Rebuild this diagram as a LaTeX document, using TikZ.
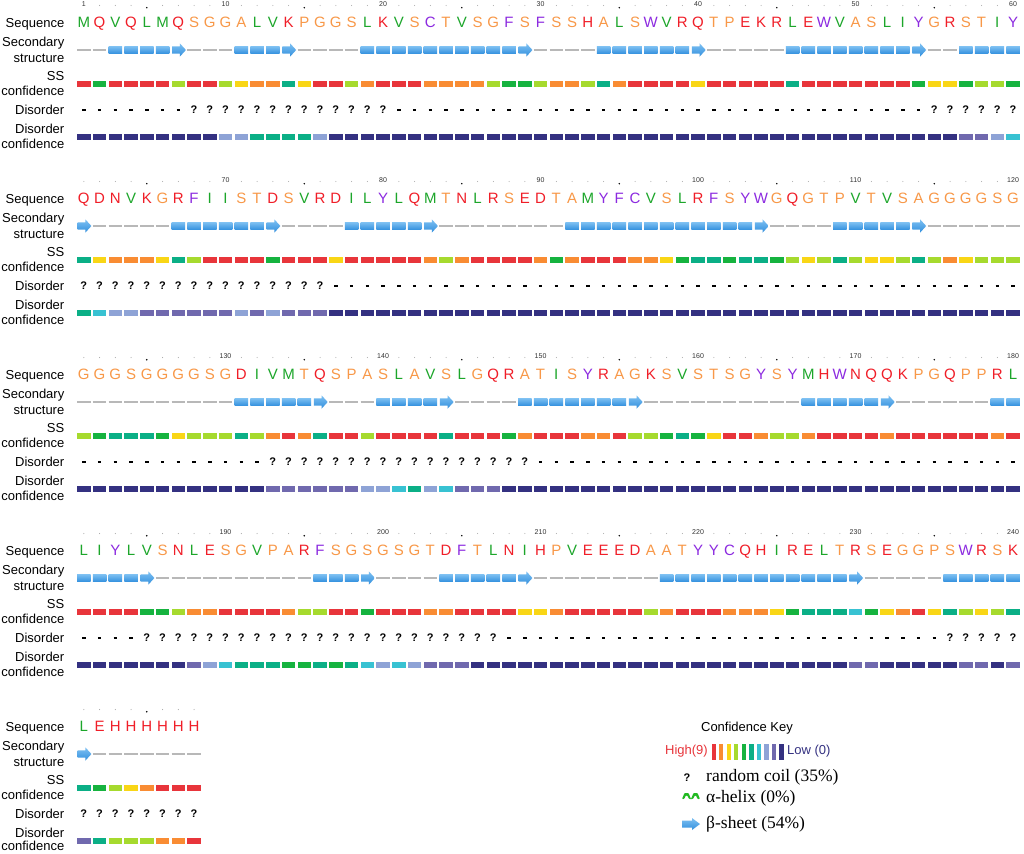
\documentclass[tikz,border=0pt]{standalone}
\usepackage{fontspec}
\setmainfont{Liberation Sans}
\newfontfamily\lserif{Liberation Serif}
\definecolor{cf9}{HTML}{E8353B}
\definecolor{cf8}{HTML}{F98C33}
\definecolor{cf7}{HTML}{F9D616}
\definecolor{cf6}{HTML}{A6DA2E}
\definecolor{cf5}{HTML}{16B33F}
\definecolor{cf4}{HTML}{0BAF86}
\definecolor{cf3}{HTML}{38C2D2}
\definecolor{cf2}{HTML}{8EA3D6}
\definecolor{cf1}{HTML}{7069AE}
\definecolor{cf0}{HTML}{343181}
\definecolor{aagreen}{HTML}{1CA62A}
\definecolor{aared}{HTML}{F01E28}
\definecolor{aaorange}{HTML}{F89848}
\definecolor{aapurple}{HTML}{8C2AE0}
\colorlet{aaM}{aagreen}\colorlet{aaV}{aagreen}\colorlet{aaL}{aagreen}\colorlet{aaI}{aagreen}
\colorlet{aaQ}{aared}\colorlet{aaK}{aared}\colorlet{aaR}{aared}\colorlet{aaE}{aared}
\colorlet{aaD}{aared}\colorlet{aaN}{aared}\colorlet{aaH}{aared}
\colorlet{aaS}{aaorange}\colorlet{aaG}{aaorange}\colorlet{aaA}{aaorange}\colorlet{aaP}{aaorange}\colorlet{aaT}{aaorange}
\colorlet{aaC}{aapurple}\colorlet{aaF}{aapurple}\colorlet{aaW}{aapurple}\colorlet{aaY}{aapurple}
\definecolor{coilgrey}{HTML}{B8B8B8}
\definecolor{strandtop}{HTML}{7DC0F2}
\definecolor{strandbot}{HTML}{3390DE}
\definecolor{helixgreen}{HTML}{22B922}
\tikzset{
  lab/.style={font=\fontsize{13}{13}\selectfont, anchor=base east, inner sep=0pt},
  aa/.style={font=\fontsize{15}{15}\selectfont, anchor=base, inner sep=0pt},
  num/.style={font=\fontsize{7}{7}\selectfont, anchor=base, inner sep=0pt, text=black!80},
  qm/.style={font=\bfseries\fontsize{11}{11}\selectfont, anchor=base, inner sep=0pt},
  coil/.style={draw=coilgrey, line width=1.1pt},
  strandfill/.style={top color=strandtop, bottom color=strandbot, draw=none},
  dashmark/.style={line width=1.5pt},
  keytxt/.style={font=\fontsize{13}{13}\selectfont, inner sep=0pt},
  legtxt/.style={font=\lserif\fontsize{17.5}{17.5}\selectfont, anchor=base west, inner sep=0pt},
}
\begin{document}
\begin{tikzpicture}[x=1pt,y=-1pt]
\fill[white] (0,0) rectangle (1024,853);
\useasboundingbox (0,0) rectangle (1024,853);
% row labels
\foreach \b in {0,...,4} {
  \pgfmathsetmacro\yy{22.5+176*\b}
  \pgfmathsetmacro\lastc{min(\yy+126.15,850.3)}
  \node[lab] (lseq\b) at (64.5,\yy+4.65) {Sequence};
  \node[lab] (lsec\b) at (64.5,\yy+23.65) {Secondary};
  \node[lab] (lstr\b) at (64.5,\yy+39.65) {structure};
  \node[lab] (lss\b) at (64.5,\yy+57.65) {SS};
  \node[lab] (lconf\b) at (64.5,\yy+73.15) {confidence};
  \node[lab] (ldis\b) at (64.5,\yy+91.65) {Disorder};
  \node[lab] (ldisb\b) at (64.5,\yy+110.65) {Disorder};
  \node[lab] (ldconf\b) at (64.5,\lastc) {confidence};
}
% residues
\foreach \Ra/\Rs/\Rc/\Rd/\Re [count=\n] in {
M/C/9/-/0,Q/C/5/-/0,V/E/9/-/0,Q/E/9/-/0,L/E/9/-/0,M/E/9/-/0,Q/A/6/-/0,S/C/9/?/0,G/C/9/?/0,G/C/6/?/2,
A/E/7/?/2,L/E/8/?/4,V/E/8/?/4,K/A/4/?/4,P/C/7/?/4,G/C/9/?/2,G/C/9/?/0,S/C/6/?/0,L/E/8/?/0,K/E/9/?/0,
V/E/9/-/0,S/E/9/-/0,C/E/8/-/0,T/E/8/-/0,V/E/8/-/0,S/E/8/-/0,G/E/6/-/0,F/E/5/-/0,S/A/5/-/0,F/C/6/-/0,
S/C/8/-/0,S/C/8/-/0,H/C/6/-/0,A/E/4/-/0,L/E/8/-/0,S/E/9/-/0,W/E/9/-/0,V/E/9/-/0,R/E/9/-/0,Q/A/7/-/0,
T/C/9/-/0,P/C/9/-/0,E/C/9/-/0,K/C/9/-/0,R/C/9/-/0,L/E/4/-/0,E/E/9/-/0,W/E/9/-/0,V/E/9/-/0,A/E/9/-/0,
S/E/9/-/0,L/E/9/-/0,I/E/9/-/0,Y/A/5/-/0,G/C/7/?/0,R/C/7/?/0,S/E/5/?/1,T/E/6/?/1,I/E/6/?/2,Y/E/5/?/3,
Q/A/4/?/4,D/C/7/?/3,N/C/8/?/2,V/C/8/?/2,K/C/8/?/1,G/C/7/?/1,R/E/4/?/1,F/E/6/?/1,I/E/9/?/1,I/E/9/?/1,
S/E/9/?/2,T/E/9/?/1,D/A/5/?/2,S/C/9/?/1,V/C/9/?/1,R/C/9/?/1,D/C/7/-/0,I/E/9/-/0,L/E/9/-/0,Y/E/9/-/0,
L/E/9/-/0,Q/E/9/-/0,M/A/8/-/0,T/C/6/-/0,N/C/8/-/0,L/C/9/-/0,R/C/9/-/0,S/C/9/-/0,E/C/9/-/0,D/C/8/-/0,
T/C/5/-/0,A/E/8/-/0,M/E/9/-/0,Y/E/9/-/0,F/E/9/-/0,C/E/8/-/0,V/E/8/-/0,S/E/7/-/0,L/E/5/-/0,R/E/4/-/0,
F/E/4/-/0,S/E/5/-/0,Y/E/4/-/0,W/A/4/-/0,G/C/5/-/0,Q/C/6/-/0,G/C/7/-/0,T/C/6/-/0,P/E/4/-/0,V/E/6/-/0,
T/E/7/-/0,V/E/7/-/0,S/E/6/-/0,A/A/4/-/0,G/C/6/-/0,G/C/8/-/0,G/C/7/-/0,G/C/6/-/0,S/C/6/-/0,G/C/6/-/0,
G/C/6/-/0,G/C/5/-/0,G/C/4/-/0,S/C/4/-/0,G/C/4/-/0,G/C/5/-/0,G/C/7/-/0,G/C/6/-/0,S/C/6/-/0,G/C/6/-/0,
D/E/4/-/0,I/E/6/-/0,V/E/8/?/1,M/E/9/?/1,T/E/8/?/1,Q/A/4/?/1,S/C/9/?/1,P/C/9/?/1,A/C/6/?/2,S/E/9/?/2,
L/E/9/?/3,A/E/9/?/4,V/E/9/?/2,S/A/4/?/3,L/C/9/?/1,G/C/9/?/1,Q/C/9/?/1,R/C/5/?/0,A/E/8/?/0,T/E/9/-/0,
I/E/9/-/0,S/E/9/-/0,Y/E/8/-/0,R/E/8/-/0,A/E/9/-/0,G/A/6/-/0,K/C/6/-/0,S/C/5/-/0,V/C/4/-/0,S/C/5/-/0,
T/C/7/-/0,S/C/9/-/0,G/C/9/-/0,Y/C/8/-/0,S/C/6/-/0,Y/C/6/-/0,M/E/8/-/0,H/E/9/-/0,W/E/9/-/0,N/E/9/-/0,
Q/E/9/-/0,Q/A/8/-/0,K/C/9/-/0,P/C/9/-/0,G/C/9/-/0,Q/C/9/-/0,P/C/9/-/0,P/C/9/-/0,R/E/8/-/0,L/E/9/-/0,
L/E/9/-/0,I/E/9/-/0,Y/E/9/-/0,L/E/9/-/0,V/A/5/?/0,S/C/5/?/0,N/C/6/?/0,L/C/8/?/1,E/C/8/?/2,S/C/9/?/3,
G/C/9/?/4,V/C/9/?/4,P/C/9/?/4,A/C/8/?/5,R/C/6/?/5,F/E/6/?/4,S/E/9/?/5,G/E/9/?/4,S/A/5/?/3,G/C/9/?/2,
S/C/9/?/3,G/C/9/?/2,T/C/8/?/1,D/E/8/?/1,F/E/9/?/1,T/E/9/?/0,L/E/9/?/0,N/E/9/-/0,I/A/7/-/0,H/C/7/-/0,
P/C/8/-/0,V/C/9/-/0,E/C/9/-/0,E/C/9/-/0,E/C/9/-/0,D/C/9/-/0,A/C/6/-/0,A/E/8/-/0,T/E/9/-/0,Y/E/9/-/0,
Y/E/9/-/0,C/E/8/-/0,Q/E/8/-/0,H/E/8/-/0,I/E/7/-/0,R/E/5/-/0,E/E/4/-/0,L/E/4/-/0,T/E/4/-/0,R/A/3/-/1,
S/C/5/-/1,E/C/7/-/0,G/C/8/-/0,G/C/9/-/0,P/C/7/-/0,S/E/4/?/0,W/E/6/?/1,R/E/7/?/1,S/E/6/?/0,K/E/4/?/1,
L/A/4/?/1,E/C/5/?/4,H/C/6/?/6,H/C/7/?/6,H/C/8/?/6,H/C/9/?/8,H/C/9/?/8,H/C/9/?/9} {
  \pgfmathtruncatemacro\blk{int((\n-1)/60)}
  \pgfmathtruncatemacro\kk{\n-60*\blk}
  \pgfmathsetmacro\xx{83.8+(\kk-1)*15.75}
  \pgfmathsetmacro\yy{22.5+176*\blk}
  \pgfmathtruncatemacro\mten{mod(\n,10)}
  \pgfmathtruncatemacro\mfive{mod(\n,5)}
  \ifnum\n=1 \node[num] (tick\n) at (\xx,\yy-16) {\n};
  \else\ifnum\mten=0 \node[num] (tick\n) at (\xx,\yy-16) {\n};
  \else\ifnum\mfive=0 \fill[black] (\xx,\yy-14.8) circle (0.85pt);
  \else \fill[black!35] (\xx,\yy-17) circle (0.55pt);
  \fi\fi\fi
  \node[aa, text=aa\Ra] (res\n) at (\xx,\yy+5.35) {\Ra};
  \if\Rs C\draw[coil] (\xx-6.7,\yy+27.5) -- (\xx+6.7,\yy+27.5);\fi
  \if\Rs E\shade[strandfill] (\xx-6.7,\yy+23.8) rectangle (\xx+6.7,\yy+31.2);\fi
  \if\Rs A\shade[strandfill] (\xx-6.3,\yy+23.8) -- (\xx+1.6,\yy+23.8) -- (\xx+1.6,\yy+20.9) -- (\xx+7.6,\yy+27.5) -- (\xx+1.6,\yy+34.1) -- (\xx+1.6,\yy+31.2) -- (\xx-6.3,\yy+31.2) -- cycle;\fi
  \fill[cf\Rc] (\xx-6.7,\yy+58.7) rectangle (\xx+6.7,\yy+64.7);
  \if\Rd ?\node[qm] (dis\n) at (\xx,\yy+91) {?};\else\draw[dashmark] (\xx-1.8,\yy+87.5) -- (\xx+1.8,\yy+87.5);\fi
  \fill[cf\Re] (\xx-6.7,\yy+111.3) rectangle (\xx+6.7,\yy+117.3);
}
% confidence key
\node[keytxt] (keytitle) at (747,728) {Confidence Key};
\node[keytxt, text=cf9, anchor=east] (high) at (708,751) {High(9)};
\foreach \i in {0,...,9} {
  \pgfmathtruncatemacro\cc{9-\i}
  \fill[cf\cc] (711.5+\i*7.55,743.5) rectangle ++(4.3,16.5);
}
\node[keytxt, text=cf0, anchor=west] (low) at (787,751) {Low (0)};
\node[qm] (keyq) at (687,781) {?};
\node[legtxt] (lcoil) at (706,781) {random coil (35\%)};
\fill[helixgreen, rounded corners=0.8pt] (682,799) -- (684.5,793) -- (688.5,793) -- (691,799) -- (693.5,793) -- (697.5,793) -- (700,799) -- (697.5,799) -- (696,795.5) -- (694.8,795.5) -- (693,799) -- (689,799) -- (687.3,795.5) -- (685.8,795.5) -- (684.2,799) -- cycle;
\node[legtxt] (lhelix) at (706,802) {α-helix (0\%)};
\shade[strandfill] (682,820.5) -- (692,820.5) -- (692,818) -- (700,824) -- (692,830) -- (692,827.5) -- (682,827.5) -- cycle;
\node[legtxt] (lsheet) at (706,828.5) {β-sheet (54\%)};
\end{tikzpicture}
\end{document}
